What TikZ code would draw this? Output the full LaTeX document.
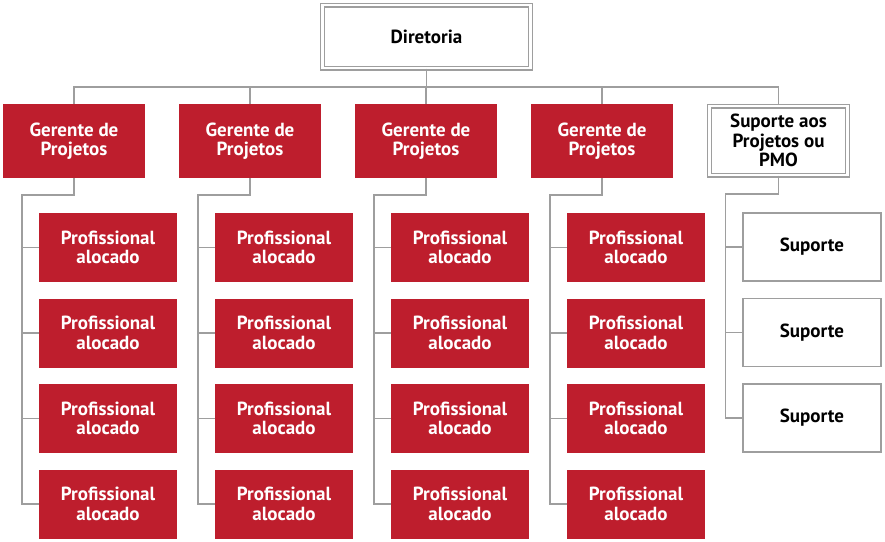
\documentclass[tikz,border=0pt]{standalone}
\usepackage{fontspec}
\setmainfont{PT Sans}
\definecolor{redbox}{HTML}{BE1E2D}
\definecolor{lgray}{HTML}{9E9E9E}
\begin{document}
\begin{tikzpicture}[x=1pt,y=-1pt,
  conn/.style={draw=lgray,line width=1.5pt},
  txt/.style={font=\bfseries\fontsize{19}{19.5}\selectfont,align=center,inner sep=0pt},
  redb/.style={txt,fill=redbox,draw=none,text=white,anchor=center},
  mgr/.style={redb,minimum width=142pt,minimum height=74pt},
  wrk/.style={redb,minimum width=138pt,minimum height=69pt},
  dbl/.style={txt,draw=lgray,line width=1.2pt,double=white,double distance=2.6pt,fill=white,text=black},
  sup/.style={txt,draw=lgray,line width=1.2pt,fill=white,text=black,minimum width=138pt,minimum height=68pt}
]
\useasboundingbox (0,0) rectangle (885,541);
\coordinate (bus) at (0,87);
% top
\node[dbl,minimum width=208pt,minimum height=63pt] (dir) at (426.5,36.5) {Diretoria};
\foreach \i/\x in {1/74,2/250,3/426,4/602}{
  \node[mgr] (m\i) at (\x,141) {Gerente de\\Projetos};
  \foreach \j/\y in {1/247.5,2/333,3/418.5,4/504}{
    \node[wrk] (w\i\j) at (\x+34,\y) {Profissional\\alocado};
  }
}
\node[dbl,minimum width=138pt,minimum height=69pt] (pmo) at (778.5,140.5) {Suporte aos\\Projetos ou\\PMO};
\foreach \j/\y in {1/247,2/332.5,3/418}{
  \node[sup] (s\j) at (812,\y) {Suporte};
}
% connectors
\draw[conn] (m1.north) |- (pmo.north |- bus) -- (pmo.north);
\foreach \i in {2,3,4}{ \draw[conn] (m\i.north) -- (m\i.north |- bus); }
\draw[conn] (dir.south) -- (dir.south |- bus);
\foreach \i in {1,2,3,4}{
  \coordinate (sp\i) at ([xshift=-17pt]w\i1.west |- 0,195);
  \draw[conn] (m\i.south) |- (sp\i) -- ([xshift=-17pt]w\i4.west) -- (w\i4.west);
  \foreach \j in {1,2,3}{ \draw[conn] ([xshift=-17pt]w\i\j.west) -- (w\i\j.west); }
}
\coordinate (spp) at ([xshift=-17pt]s1.west |- 0,194);
\draw[conn] (pmo.south) |- (spp) -- ([xshift=-17pt]s3.west) -- (s3.west);
\foreach \j in {1,2}{ \draw[conn] ([xshift=-17pt]s\j.west) -- (s\j.west); }
\end{tikzpicture}
\end{document}
